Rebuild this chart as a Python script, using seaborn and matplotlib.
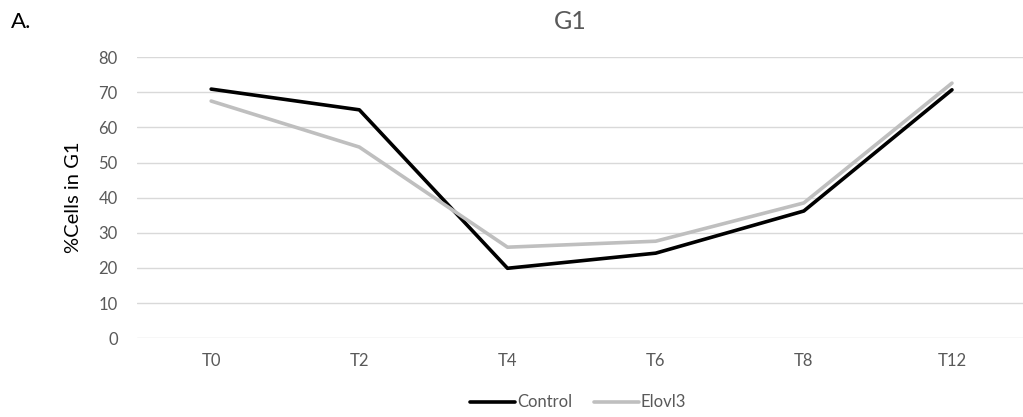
import numpy as np
import pandas as pd
import seaborn as sns
import matplotlib.pyplot as plt

# datos
timepoints = ["T0", "T2", "T4", "T6", "T8", "T12"]
control = [70.9, 65.0, 19.9, 24.2, 36.2, 70.7]
elovl3 = [67.5, 54.4, 25.9, 27.6, 38.5, 72.6]
series_names = ["Control", "Elovl3"]
y_ticks = [0, 10, 20, 30, 40, 50, 60, 70, 80]

df = pd.DataFrame({
    "Time": timepoints * 2,
    "pos": list(range(len(timepoints))) * 2,
    "Value": control + elovl3,
    "Group": [series_names[0]] * len(timepoints) + [series_names[1]] * len(timepoints),
})

sns.set_style("white")
plt.rcParams['font.family'] = ['Lato', 'DejaVu Sans']
grey_txt = "#595959"

fig = plt.figure(figsize=(10.23, 4.17), dpi=100)
ax = fig.add_axes([0.134, 0.189, 0.869, 0.674])

sns.lineplot(data=df, x="pos", y="Value", hue="Group",
             palette={"Control": "#000000", "Elovl3": "#bfbfbf"},
             linewidth=2.6, ax=ax, legend=False, zorder=3)

ax.set_xlim(-0.5, len(timepoints) - 0.5)
ax.set_ylim(0, 80)
ax.set_yticks(y_ticks)
ax.set_xticks(range(len(timepoints)))
ax.set_xticklabels(timepoints)
ax.yaxis.grid(True, color="#d9d9d9", linewidth=1)
ax.set_axisbelow(True)
for s in ax.spines.values():
    s.set_visible(False)
ax.tick_params(axis="both", length=0, labelsize=12, colors=grey_txt)
ax.tick_params(axis="x", pad=11)
ax.tick_params(axis="y", pad=14)
ax.set_xlabel("")
ax.set_ylabel("%Cells in G1", fontsize=14.5, color="#000000", labelpad=12)

fig.text(0.557, 0.948, "G1", fontsize=18, color=grey_txt, ha="center", va="center")
fig.text(0.011, 0.948, "A.", fontsize=16, color="#000000", ha="left", va="center")

handles = [plt.Line2D([], [], color="#000000", linewidth=2.6),
           plt.Line2D([], [], color="#bfbfbf", linewidth=2.6)]
fig.legend(handles, series_names, loc="center", bbox_to_anchor=(0.565, 0.035),
           ncol=2, frameon=False, fontsize=12, handlelength=2.7, handletextpad=0.1,
           columnspacing=1.3, labelcolor=grey_txt)

fig.savefig("out.png", dpi=100)
